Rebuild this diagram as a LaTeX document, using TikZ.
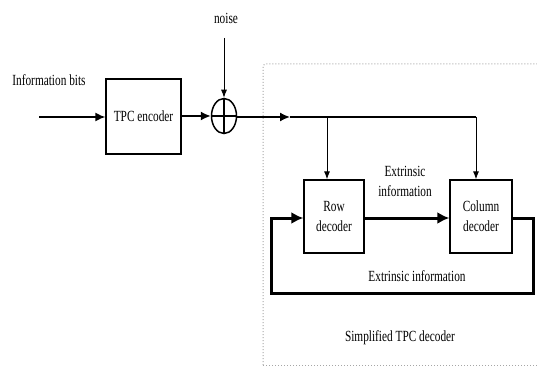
\documentclass[tikz,border=0pt]{standalone}
\usepackage{fontspec}
\setmainfont[FakeStretch=0.73]{Liberation Serif}
\usetikzlibrary{arrows.meta,shapes.geometric,positioning}
\tikzset{
	x=1pt, y=-1pt,
	every node/.style={font=\fontsize{15.5}{20}\selectfont},
	block/.style={draw, line width=1.3pt, rectangle, align=center, inner sep=2pt},
	adder/.style={draw, line width=1.5pt, ellipse, minimum width=25pt, minimum height=35pt, inner sep=0pt},
	link/.style={-{Latex[length=10pt,width=9pt]}, line width=1.6pt},
	thin link/.style={-{Latex[length=8pt,width=6pt]}, line width=0.9pt},
	fat/.style={-{Latex[length=12pt,width=12pt]}, line width=3pt},
	frame/.style={draw=gray!70, dotted, line width=1pt},
}
\begin{document}
\begin{tikzpicture}
      \useasboundingbox (0,0) rectangle (537,366);
      % simplified decoder frame
      \draw[frame] (263,365) -- (263,67) to[out=90,in=180] (266,64) -- (540,64);
      \draw[frame] (263,365) -- (540,365);

      \node[block, minimum width=75pt, minimum height=75pt] (enc) at (143.5,116.5) {TPC encoder};
      \node[adder] (sum) at (224,116) {};
      \draw[line width=1.5pt] (sum.north) -- (sum.south) (sum.west) -- (sum.east);
      \node[block, minimum width=60pt, minimum height=73pt] (row) at (334,216.5) {Row\\decoder};
      \node[block, minimum width=62pt, minimum height=73pt] (col) at (481,216.5) {Column\\decoder};

      \node (noise) at (226,18) {noise};
      \node (info) at (49,80) {Information bits};
      \node (ext1) at (405,181) [align=center] {Extrinsic\\information};
      \node (ext2) at (417,276) {Extrinsic information};
      \node (simp) at (400,338) {Simplified TPC decoder};

      \coordinate (in) at (39,117);
      \coordinate (nz) at (224,38);
      \coordinate (mid) at (290,117);
      \coordinate (brow) at (327,117);
      \coordinate (bcol) at (476,117);
      \coordinate (fb1) at (533,218);
      \coordinate (fb2) at (533,293);
      \coordinate (fb3) at (271,293);
      \coordinate (fb4) at (271,218);

      \draw[link] (in) -- (enc.west |- in);
      \draw[link] (enc.east |- sum) -- (sum.west);
      \draw[thin link] (nz) -- (sum.north);
      \draw[link] (sum.east |- mid) -- (mid);
      \draw[line width=1.6pt] (mid) -- (bcol);
      \draw[thin link] (brow) -- (row.north -| brow);
      \draw[thin link] (bcol) -- (col.north -| bcol);
      \draw[fat] (row.east |- fb4) -- (col.west |- fb4);
      \draw[fat] (col.east |- fb1) -- (fb1) -- (fb2) -- (fb3) -- (fb4) -- (row.west |- fb4);
\end{tikzpicture}
\end{document}
